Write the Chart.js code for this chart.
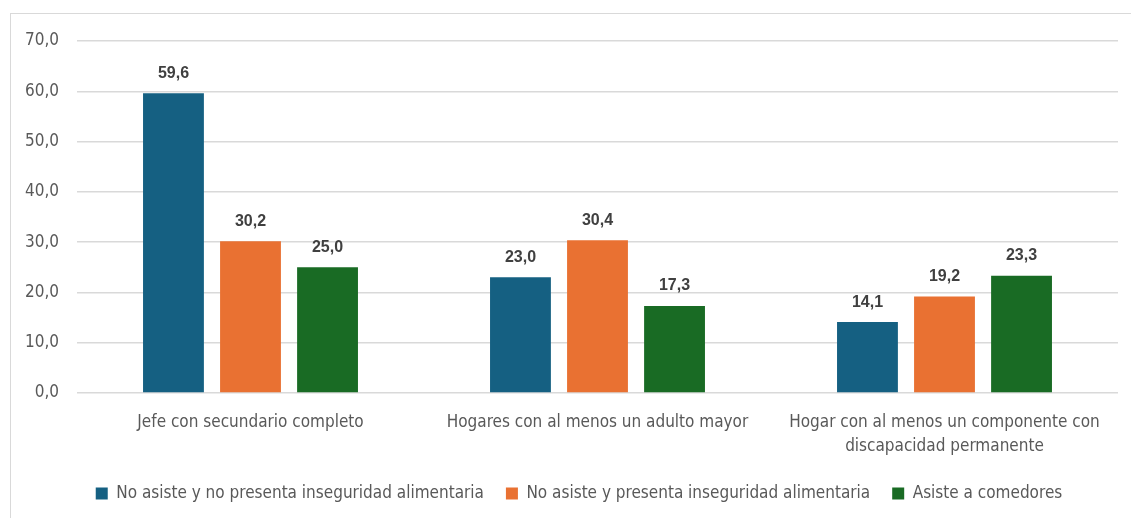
<!DOCTYPE html>
<html>
<head>
<meta charset="utf-8">
<script src="https://cdn.jsdelivr.net/npm/chart.js@4/dist/chart.umd.min.js"></script>
<style>
  body { margin: 0; background: #fff; }
  #frame { position: absolute; left: 10px; top: 13px; width: 1130px; height: 520px; border: 1.5px solid #d9d9d9; }
  #wrap { position: absolute; left: 0; top: 0; width: 1131px; height: 518px; }
</style>
</head>
<body>
<div id="frame"></div>
<div id="wrap"><canvas id="chart"></canvas></div>
<script>
const categories = [
  'Jefe con secundario completo',
  'Hogares con al menos un adulto mayor',
  ['Hogar con al menos un componente con', 'discapacidad permanente']
];
const seriesNames = [
  'No asiste y no presenta inseguridad alimentaria',
  'No asiste y presenta inseguridad alimentaria',
  'Asiste a comedores'
];
const noAsisteSinInseg = [59.6, 23.0, 14.1];
const noAsisteConInseg = [30.2, 30.4, 19.2];
const asisteComedores = [25.0, 17.3, 23.3];
const colors = ['#156082', '#E97132', '#196B24'];

const fontFam = "'Liberation Sans Narrow', 'DejaVu Sans Condensed', sans-serif";
const fmt = v => v.toFixed(1).replace('.', ',');

const valueLabels = {
  id: 'valueLabels',
  afterDatasetsDraw(chart) {
    const ctx = chart.ctx;
    ctx.save();
    ctx.font = "bold 16px 'Liberation Sans', Arial, sans-serif";
    ctx.fillStyle = '#404040';
    ctx.textAlign = 'center';
    ctx.textBaseline = 'middle';
    chart.data.datasets.forEach((ds, i) => {
      chart.getDatasetMeta(i).data.forEach((bar, j) => {
        ctx.fillText(fmt(ds.data[j]), bar.x, bar.y - 20);
      });
    });
    ctx.restore();
  }
};

// legend sits a bit right of centre in the original
const legendShift = {
  id: 'legendShift',
  afterLayout(chart) {
    if (chart.legend) {
      chart.legend.left += 15;
      chart.legend.right += 15;
    }
  }
};

new Chart(document.getElementById('chart'), {
  type: 'bar',
  data: {
    labels: categories,
    datasets: [noAsisteSinInseg, noAsisteConInseg, asisteComedores].map((d, i) => ({
      label: seriesNames[i],
      data: d,
      backgroundColor: colors[i],
      borderWidth: 0,
      barPercentage: 0.79,
      categoryPercentage: 0.666
    }))
  },
  options: {
    responsive: true,
    maintainAspectRatio: false,
    animation: false,
    layout: { padding: { top: 41, right: 13, bottom: 6, left: 10 } },
    plugins: {
      tooltip: { enabled: false },
      legend: {
        position: 'bottom',
        labels: {
          boxWidth: 12, boxHeight: 12, padding: 22,
          color: '#595959',
          font: { family: fontFam, size: 17 }
        }
      }
    },
    scales: {
      x: {
        grid: { display: false },
        border: { display: false },
        ticks: { color: '#595959', padding: 9, font: { family: fontFam, size: 17, lineHeight: 1.45 } },
        afterFit(s) { s.height = 70; }
      },
      y: {
        min: 0, max: 70,
        ticks: { stepSize: 10, color: '#595959', padding: 18, font: { family: fontFam, size: 17 }, callback: v => fmt(v) },
        grid: { color: '#d9d9d9', lineWidth: 1.5, drawTicks: false },
        border: { display: false },
        afterFit(s) { s.width = 67; }
      }
    }
  },
  plugins: [valueLabels, legendShift]
});
</script>
</body>
</html>
